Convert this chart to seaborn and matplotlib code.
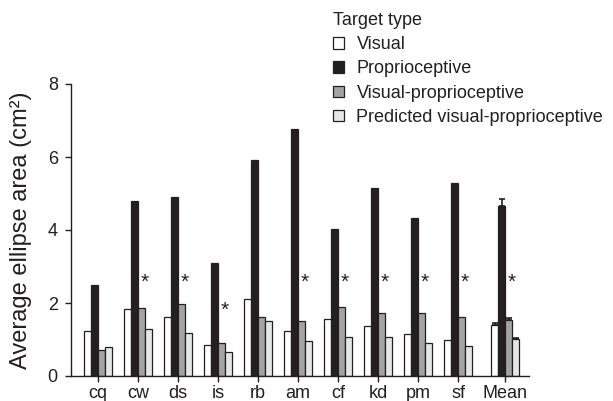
import numpy as np
import pandas as pd
import matplotlib
matplotlib.use("Agg")
import matplotlib.pyplot as plt
import seaborn as sns
from matplotlib.patches import Patch

# ---- data ----
categories = ["cq", "cw", "ds", "is", "rb", "am", "cf", "kd", "pm", "sf", "Mean"]
visual = [1.23, 1.84, 1.62, 0.86, 2.11, 1.23, 1.56, 1.38, 1.16, 0.99, 1.40]
proprioceptive = [2.49, 4.79, 4.90, 3.09, 5.93, 6.77, 4.04, 5.15, 4.33, 5.29, 4.67]
visual_proprioceptive = [0.70, 1.87, 1.98, 0.90, 1.61, 1.52, 1.89, 1.72, 1.73, 1.62, 1.54]
predicted_vp = [0.79, 1.29, 1.17, 0.66, 1.51, 0.96, 1.08, 1.07, 0.90, 0.81, 1.02]
mean_err = [0.05, 0.18, 0.05, 0.02]
star_categories = ["cw", "ds", "is", "am", "cf", "kd", "pm", "sf", "Mean"]
star_y = [2.56, 2.56, 1.80, 2.56, 2.56, 2.56, 2.56, 2.56, 2.56]
type_labels = ["Visual", "Proprioceptive", "Visual-proprioceptive",
               "Predicted visual-proprioceptive"]
y_ticks = [0, 2, 4, 6, 8]

series = [visual, proprioceptive, visual_proprioceptive, predicted_vp]
df = pd.DataFrame({
    "category": categories * 4,
    "type": np.repeat(type_labels, len(categories)),
    "value": np.concatenate(series),
})

colors = ["#ffffff", "#231f20", "#a3a3a3", "#e6e6e6"]
ink = "#231f20"

sns.set_theme(style="ticks")
plt.rcParams["font.family"] = ["Liberation Sans", "DejaVu Sans"]
plt.rcParams["text.color"] = ink
plt.rcParams["axes.labelcolor"] = ink
plt.rcParams["xtick.color"] = ink
plt.rcParams["ytick.color"] = ink

fig = plt.figure(figsize=(6.13, 4.01), dpi=100)
ax = fig.add_axes([71 / 613, 1 - 376 / 401, (529 - 71) / 613, (376 - 84) / 401])

sns.barplot(data=df, x="category", y="value", hue="type", order=categories,
            hue_order=type_labels, palette=colors, width=0.7, gap=0,
            edgecolor=ink, linewidth=0.9, errorbar=None, legend=False, ax=ax)

# shift the Mean group slightly to the right (extra spacing as in reference)
shift = 0.175
mean_idx = categories.index("Mean")
for p in ax.patches:
    cx = p.get_x() + p.get_width() / 2
    if abs(cx - mean_idx) < 0.5:
        p.set_x(p.get_x() + shift)

# error bars for mean group
bw = 0.7 / 4
for k in range(4):
    xc = mean_idx + shift - 0.35 + bw * (k + 0.5)
    ax.errorbar(xc, series[k][mean_idx], yerr=[[0], [mean_err[k]]], fmt="none",
                ecolor=ink, elinewidth=1.2, capsize=2, capthick=1.2, zorder=5)

# asterisks
for cat, yv in zip(star_categories, star_y):
    i = categories.index(cat)
    xs = i + (shift if cat == "Mean" else 0) + 0.175
    ax.text(xs, yv, "*", ha="center", va="center", fontsize=15, color=ink)

ticks_x = [i + (shift if c == "Mean" else 0) for i, c in enumerate(categories)]
ax.set_xticks(ticks_x)
ax.set_xticklabels(categories, fontsize=13)
ax.set_xlim(-0.675, mean_idx + shift + 0.6)
ax.set_ylim(0, 8)
ax.set_yticks(y_ticks)
ax.set_yticklabels([str(t) for t in y_ticks], fontsize=13)
ax.set_xlabel("")
ax.set_ylabel("Average ellipse area (cm²)", fontsize=17, labelpad=11)
ax.tick_params(axis="both", length=4.5, width=1, direction="out")
ax.tick_params(axis="y", pad=5)
ax.tick_params(axis="x", pad=2)
sns.despine(ax=ax)
for s in ["left", "bottom"]:
    ax.spines[s].set_linewidth(1)
    ax.spines[s].set_color(ink)

handles = [Patch(facecolor=c, edgecolor=ink, linewidth=0.9) for c in colors]
leg = fig.legend(handles, type_labels, title="Target type", loc="upper left",
                 bbox_to_anchor=(324 / 613, 398 / 401), frameon=False, fontsize=13,
                 title_fontsize=13, handlelength=0.6, handleheight=0.6,
                 handletextpad=0.7, labelspacing=0.4, alignment="left",
                 borderaxespad=0.1)

fig.savefig("out.png", dpi=100)
